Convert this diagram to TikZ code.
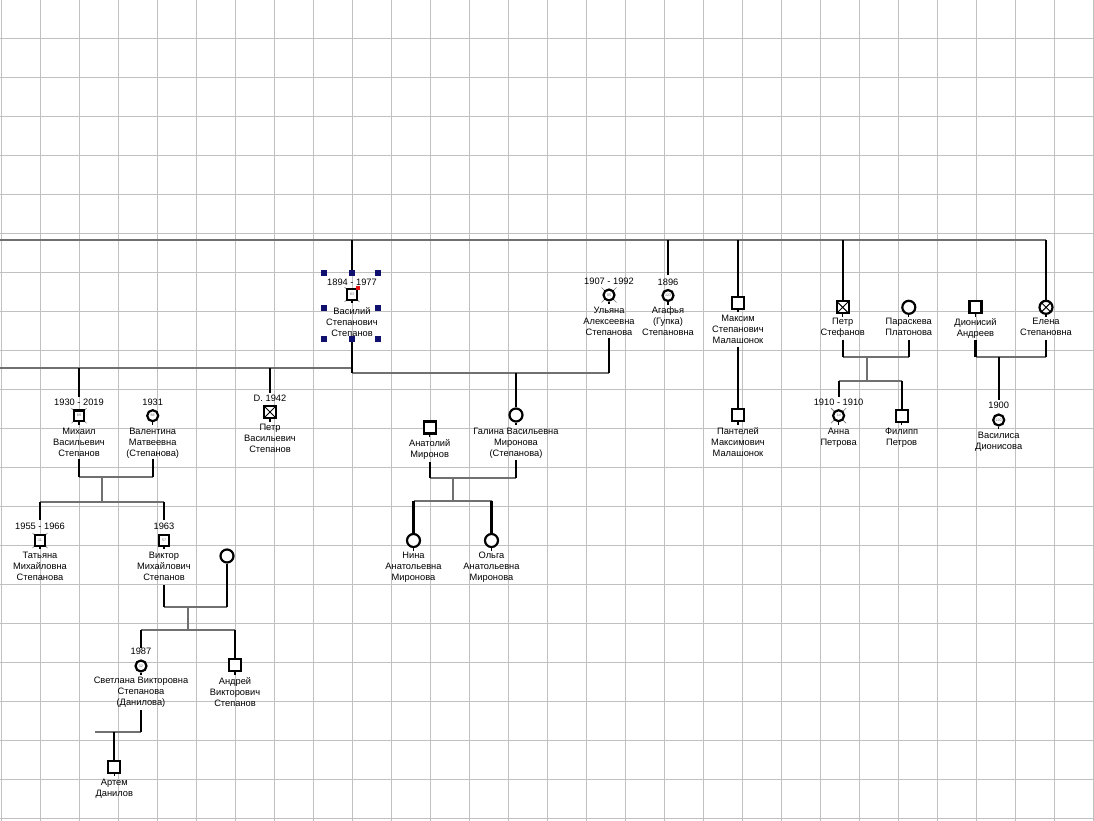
\documentclass[tikz,border=0pt]{standalone}
\usepackage{fontspec}
\setmainfont{Liberation Sans}
\definecolor{gridc}{RGB}{192,192,192}
\definecolor{linec}{RGB}{112,112,112}
\definecolor{handlec}{RGB}{16,16,110}
\definecolor{selred}{RGB}{230,20,20}
\newcommand\xtickmark[2]{\draw[line width=0.6pt, black!55] (#1-7.5,#2-7.5) -- (#1+7.5,#2+7.5) (#1-7.5,#2+7.5) -- (#1+7.5,#2-7.5);}
\begin{document}
\begin{tikzpicture}[x=1pt,y=-1pt,
  gridline/.style={draw=gridc, line width=1pt},
  hline/.style={draw=linec, line width=2.2pt},
  vline/.style={draw=black, line width=2.2pt},
  lbl/.style={font=\fontsize{9.3}{11}\selectfont, align=center, inner sep=0pt, text=black},
  nm/.style={lbl, anchor=north},
  dt/.style={lbl},
  msq/.style={draw=black, rectangle, line width=2.2pt, fill=white, minimum size=12pt, inner sep=0pt},
  fci/.style={draw=black, circle, line width=2.2pt, fill=white, minimum size=13pt, inner sep=0pt},
  asq/.style={msq, minimum size=10.5pt, font=\fontsize{3.6}{4}\selectfont, text=black!60},
  aci/.style={fci, minimum size=11pt, font=\fontsize{3.6}{4}\selectfont, text=black!60},
  dead/.style={path picture={\draw[line width=1pt] (path picture bounding box.north west) -- (path picture bounding box.south east) (path picture bounding box.north east) -- (path picture bounding box.south west);}},
  stub/.style={draw=black, line width=1.2pt},
  handle/.style={fill=handlec, rectangle, minimum size=6pt, inner sep=0pt},
]
\useasboundingbox (0,0) rectangle (1094,821);
\fill[white] (0,0) rectangle (1094,821);
% grid
\foreach \i in {0,...,28} \draw[gridline] ({1.5+39*\i},0) -- ({1.5+39*\i},821);
\foreach \j in {0,...,20} \draw[gridline] (0,{38.5+39*\j}) -- (1094,{38.5+39*\j});

% ---------- dead-age tick marks (behind symbols)
\xtickmark{352}{294.5}
\xtickmark{609}{295}
\xtickmark{79}{415.7}
\xtickmark{40}{540.5}
\xtickmark{838.6}{415.7}

% ---------- people
% Vasily
\node[dt] (V-d) at (352,282.5) {1894 - 1977};
\node[asq] (V) at (352,294.5) {83};
\node[nm] (V-n) at (352,311-3.6) {Василий\\Степанович\\Степанов};
% Ulyana
\node[dt] (U-d) at (609,281.7) {1907 - 1992};
\node[aci] (U) at (609,295) {85};
\node[nm] (U-n) at (609,310-3.6) {Ульяна\\Алексеевна\\Степанова};
% Agafya
\node[dt] (A-d) at (668,282) {1896};
\node[aci] (A) at (668,295.5) {123};
\node[nm] (A-n) at (668,310.5-3.6) {Агафья\\(Гупка)\\Степановна};
% Maksim
\node[msq] (M) at (738,302.7) {};
\node[nm] (M-n) at (738,318.3-3.6) {Максим\\Степанович\\Малашонок};
% Panteley
\node[msq] (P) at (738,415) {};
\node[nm] (P-n) at (738,431-3.6) {Пантелей\\Максимович\\Малашонок};
% Petr Stefanov
\node[msq,dead] (PS) at (842.7,307.3) {};
\node[nm] (PS-n) at (842.7,321.7-3.6) {Петр\\Стефанов};
% Paraskeva
\node[fci] (Pa) at (908.8,307.3) {};
\node[nm] (Pa-n) at (908.8,321.7-3.6) {Параскева\\Платонова};
% Dionisy
\node[msq] (D) at (975.5,307.3) {};
\node[nm] (D-n) at (975.5,321.7-3.6) {Дионисий\\Андреев};
% Elena
\node[fci,dead] (E) at (1046,307.3) {};
\node[nm] (E-n) at (1046,321.7-3.6) {Елена\\Степановна};
% Anna
\node[dt] (An-d) at (838.6,402.7) {1910 - 1910};
\node[aci] (An) at (838.6,415.7) {1d};
\node[nm] (An-n) at (838.6,431.3-3.6) {Анна\\Петрова};
% Filipp
\node[msq] (F) at (901.6,415.7) {};
\node[nm] (F-n) at (901.6,431.3-3.6) {Филипп\\Петров};
% Vasilisa
\node[dt] (Vs-d) at (998.7,405.3) {1900};
\node[aci] (Vs) at (998.7,420) {120};
\node[nm] (Vs-n) at (998.7,435-3.6) {Василиса\\Дионисова};
% Mikhail
\node[dt] (Mi-d) at (79,402.7) {1930 - 2019};
\node[asq] (Mi) at (79,415.7) {89};
\node[nm] (Mi-n) at (79,431-3.6) {Михаил\\Васильевич\\Степанов};
% Valentina
\node[dt] (Va-d) at (152.7,402.7) {1931};
\node[aci] (Va) at (152.7,415.7) {88};
\node[nm] (Va-n) at (152.7,431-3.6) {Валентина\\Матвеевна\\(Степанова)};
% Petr Vasilievich
\node[dt] (PV-d) at (270,398.7) {D. 1942};
\node[msq,dead] (PV) at (270,412) {};
\node[nm] (PV-n) at (270,427-3.6) {Петр\\Васильевич\\Степанов};
% Anatoly
\node[msq] (At) at (429.7,427.5) {};
\node[nm] (At-n) at (429.7,442.7-3.6) {Анатолий\\Миронов};
% Galina
\node[fci] (G) at (516,415) {};
\node[nm] (G-n) at (516,431.7-3.6) {Галина Васильевна\\Миронова\\(Степанова)};
% Nina
\node[fci] (N) at (413.5,540.5) {};
\node[nm] (N-n) at (413.5,555.7-3.6) {Нина\\Анатольевна\\Миронова};
% Olga
\node[fci] (O) at (491.5,540.5) {};
\node[nm] (O-n) at (491.5,555.7-3.6) {Ольга\\Анатольевна\\Миронова};
% Tatyana
\node[dt] (T-d) at (40,526) {1955 - 1966};
\node[asq] (T) at (40,540.5) {11};
\node[nm] (T-n) at (40,555.7-3.6) {Татьяна\\Михайловна\\Степанова};
% Viktor
\node[dt] (Vk-d) at (164,526) {1963};
\node[asq] (Vk) at (164,540.5) {57};
\node[nm] (Vk-n) at (164,555.7-3.6) {Виктор\\Михайлович\\Степанов};
% Viktor's wife
\node[fci] (W) at (227,556) {};
% Svetlana
\node[dt] (S-d) at (141,651.3) {1987};
\node[aci] (S) at (141,666) {32};
\node[nm] (S-n) at (141,680.7-3.6) {Светлана Викторовна\\Степанова\\(Данилова)};
% Andrey
\node[msq] (Ad) at (235,665) {};
\node[nm] (Ad-n) at (235,680.7-3.6) {Андрей\\Викторович\\Степанов};
% Artem
\node[msq] (Ar) at (114.3,766.7) {};
\node[nm] (Ar-n) at (114.3,782.7-3.6) {Артем\\Данилов};

% stubs under symbols
\foreach \n in {V,U,A,M,P,PS,Pa,D,E,An,F,Vs,Mi,Va,PV,At,G,N,O,T,Vk,S,Ad,Ar}
  \draw[stub] (\n.south) -- ++(0,2.5);

% ---------- junction coordinates
\coordinate (top-l) at (0,240);
\coordinate (top-r) at (1046,240);
\coordinate (vas-top) at (352,240);
\coordinate (vas-hd) at (352,272);
\coordinate (vas-bt) at (352,339);
\coordinate (vas-j) at (352,373);
\coordinate (uly-bt) at (609,338);
\coordinate (uly-j) at (609,373);
\coordinate (gal-j) at (516,373);
\coordinate (aga-top) at (668,240);
\coordinate (aga-end) at (668,275);
\coordinate (mak-top) at (738,240);
\coordinate (mak-bt) at (738,346.7);
\coordinate (ps-top) at (842.7,240);
\coordinate (el-top) at (1046,240);
\coordinate (sons-l) at (0,368);
\coordinate (sons-r) at (352,368);
\coordinate (mi-top) at (79,368);
\coordinate (mi-end) at (79,397);
\coordinate (pv-top) at (270,368);
\coordinate (pv-end) at (270,393);
% Mikhail family
\coordinate (mi-bt) at (79,459);
\coordinate (mi-m) at (79,477);
\coordinate (va-bt) at (152.7,459);
\coordinate (va-m) at (152.7,477);
\coordinate (mv-j) at (101.7,477);
\coordinate (mv-s) at (101.7,502);
\coordinate (ta-s) at (40,502);
\coordinate (ta-end) at (40,520);
\coordinate (vk-s) at (164,502);
\coordinate (vk-end) at (164,520);
% Viktor family
\coordinate (vk-bt) at (164,585);
\coordinate (vk-m) at (164,606.7);
\coordinate (w-m) at (227,606.7);
\coordinate (vw-j) at (187.7,606.7);
\coordinate (vw-s) at (187.7,630);
\coordinate (sv-s) at (141,630);
\coordinate (sv-end) at (141,647.7);
\coordinate (ad-s) at (235,630);
% Svetlana family
\coordinate (sv-bt) at (141,710);
\coordinate (sv-m) at (141,731.7);
\coordinate (sv-l) at (95,731.7);
\coordinate (ar-j) at (114.3,731.7);
% Galina family
\coordinate (at-bt) at (429.7,462);
\coordinate (at-m) at (429.7,477.7);
\coordinate (g-bt) at (516,460);
\coordinate (g-m) at (516,477.7);
\coordinate (ag-j) at (452.7,477.7);
\coordinate (ag-s) at (452.7,500.7);
\coordinate (n-s) at (413.5,500.7);
\coordinate (o-s) at (491.5,500.7);
% Petr Stefanov family
\coordinate (ps-bt) at (842.7,340);
\coordinate (ps-m) at (842.7,356.7);
\coordinate (pa-bt) at (908.8,340);
\coordinate (pa-m) at (908.8,356.7);
\coordinate (pp-j) at (866.9,356.7);
\coordinate (pp-s) at (866.9,381);
\coordinate (an-s) at (838.6,381);
\coordinate (an-end) at (838.6,397);
\coordinate (f-s) at (901.6,381);
% Dionisy family
\coordinate (d-bt) at (975.5,340);
\coordinate (d-m) at (975.5,356.7);
\coordinate (e-bt) at (1046,340);
\coordinate (e-m) at (1046,356.7);
\coordinate (de-j) at (998.7,356.7);
\coordinate (vs-end) at (998.7,400);

% ---------- connectors: grey horizontals
\draw[hline] (top-l) -- (top-r);
\draw[hline] (sons-l) -- (sons-r);
\draw[hline] (vas-j) -- (uly-j);
\draw[hline] (mi-m) -- (va-m);
\draw[hline] (mv-j) -- (mv-s);
\draw[hline] (ta-s) -- (vk-s);
\draw[hline] (vk-m) -- (w-m);
\draw[hline] (vw-j) -- (vw-s);
\draw[hline] (sv-s) -- (ad-s);
\draw[hline] (sv-l) -- (sv-m);
\draw[hline] (at-m) -- (g-m);
\draw[hline] (ag-j) -- (ag-s);
\draw[hline] (n-s) -- (o-s);
\draw[hline] (ps-m) -- (pa-m);
\draw[hline] (pp-j) -- (pp-s);
\draw[hline] (an-s) -- (f-s);
\draw[hline] (d-m) -- (e-m);

% ---------- connectors: black verticals
\draw[vline] (vas-top) -- (vas-hd);
\draw[vline] (vas-bt) -- (vas-j);
\draw[vline] (uly-bt) -- (uly-j);
\draw[vline] (gal-j) -- (G.north);
\draw[vline] (aga-top) -- (aga-end);
\draw[vline] (mak-top) -- (M.north);
\draw[vline] (mak-bt) -- (P.north);
\draw[vline] (ps-top) -- (PS.north);
\draw[vline] (el-top) -- (E.north);
\draw[vline] (mi-top) -- (mi-end);
\draw[vline] (pv-top) -- (pv-end);
\draw[vline] (mi-bt) -- (mi-m);
\draw[vline] (va-bt) -- (va-m);
\draw[vline] (ta-s) -- (ta-end);
\draw[vline] (vk-s) -- (vk-end);
\draw[vline] (vk-bt) -- (vk-m);
\draw[vline] (W.south) -- (w-m);
\draw[vline] (sv-s) -- (sv-end);
\draw[vline] (ad-s) -- (Ad.north);
\draw[vline] (sv-bt) -- (sv-m);
\draw[vline] (ar-j) -- (Ar.north);
\draw[vline] (at-bt) -- (at-m);
\draw[vline] (g-bt) -- (g-m);
\draw[vline] (n-s) -- (N.north);
\draw[vline] (o-s) -- (O.north);
\draw[vline] (ps-bt) -- (ps-m);
\draw[vline] (pa-bt) -- (pa-m);
\draw[vline] (an-s) -- (an-end);
\draw[vline] (f-s) -- (F.north);
\draw[vline] (d-bt) -- (d-m);
\draw[vline] (e-bt) -- (e-m);
\draw[vline] (de-j) -- (vs-end);

% ---------- selection handles around Vasily
\foreach \hx/\hy [count=\k] in {324/273,352/273,378/273,324/308,378/308,324/339,352/339,378/339}
  \node[handle] (h\k) at (\hx,\hy) {};
\node[fill=selred, rectangle, minimum size=4pt, inner sep=0pt] (sel) at (358,288) {};
\end{tikzpicture}
\end{document}
